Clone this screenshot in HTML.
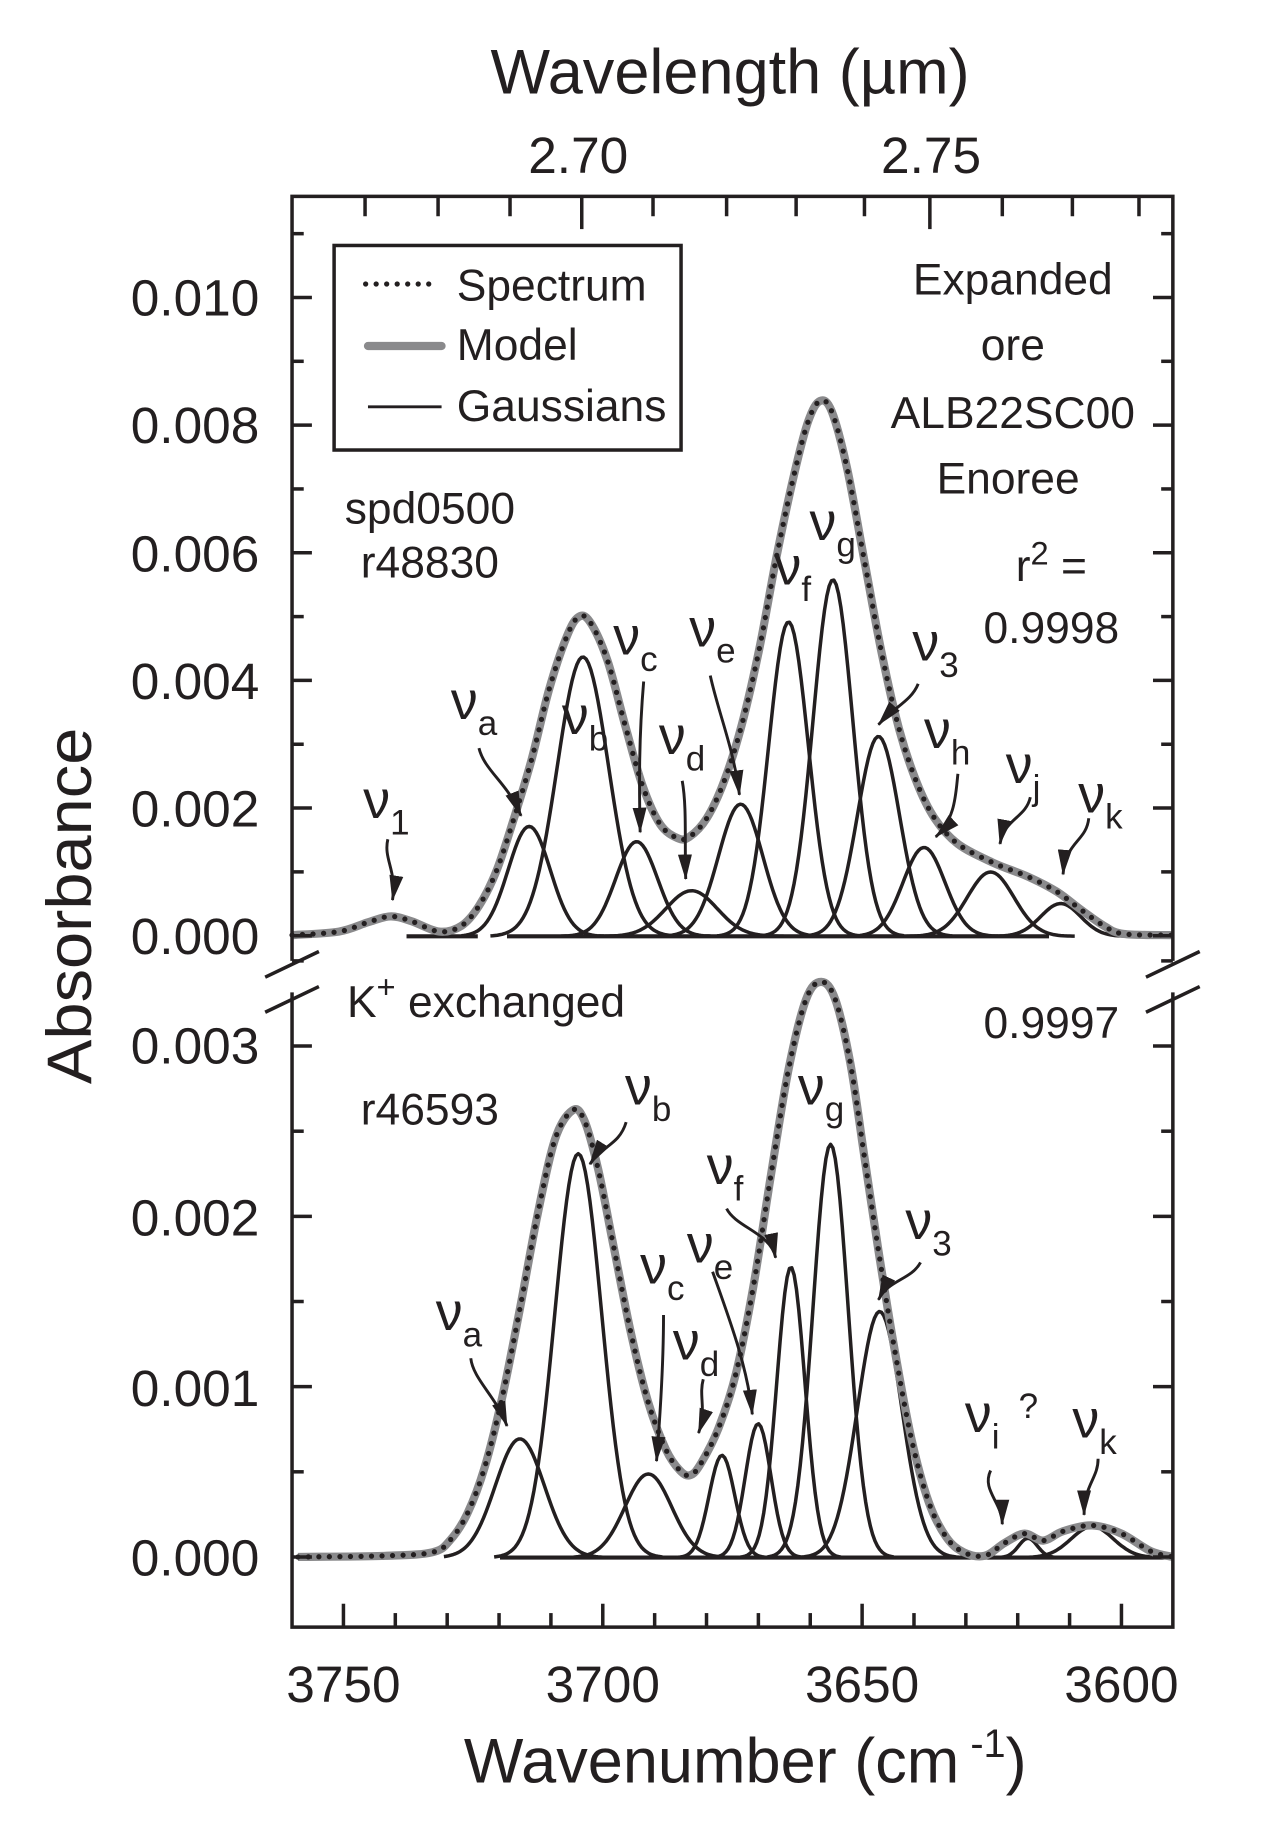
<!DOCTYPE html>
<html><head><meta charset="utf-8"><style>
html,body{margin:0;padding:0;background:#fff}
svg{display:block}
text{font-family:"Liberation Sans",Arial,sans-serif;fill:#231f20}
.tk{font-size:44px}
.an{font-size:38px}
.nu{font-size:46px}
.sb{font-size:30px}
</style></head><body>
<svg id="s" width="1285" height="1834" viewBox="0 0 1100 1569" preserveAspectRatio="none" xmlns="http://www.w3.org/2000/svg">
<defs>
<marker id="ah" viewBox="0 0 22 12" refX="21" refY="6" markerWidth="22" markerHeight="12" markerUnits="userSpaceOnUse" orient="auto">
<path d="M0,0 L22,6 L0,12 Z" fill="#231f20"/>
</marker>
</defs>
<g id="curves"></g>
<g id="axes" stroke="#231f20" stroke-width="3" fill="none"></g>
<rect x="286" y="210" width="297" height="175" fill="none" stroke="#231f20" stroke-width="3"/>
<line x1="313" y1="243" x2="376" y2="243" stroke="#231f20" stroke-width="4.5" stroke-linecap="round" stroke-dasharray="0 9"/>
<line x1="315" y1="296" x2="378" y2="296" stroke="#8a8a8c" stroke-width="7" stroke-linecap="round"/>
<line x1="315" y1="348" x2="378" y2="348" stroke="#231f20" stroke-width="2.5"/>
<text class="an" x="391" y="257">Spectrum</text>
<text class="an" x="391" y="308">Model</text>
<text class="an" x="391" y="360">Gaussians</text>
<text x="625" y="80" font-size="54" text-anchor="middle">Wavelength (µm)</text>
<text class="tk" x="495" y="148" text-anchor="middle">2.70</text>
<text class="tk" x="797" y="148" text-anchor="middle">2.75</text>
<text x="638" y="1525" font-size="54" text-anchor="middle">Wavenumber (cm<tspan font-size="34" dy="-22"> -1</tspan><tspan dy="22">)</tspan></text>
<text x="78" y="775" font-size="54" text-anchor="middle" transform="rotate(-90 78 775)" textLength="305" lengthAdjust="spacingAndGlyphs">Absorbance</text>
<g class="tk" text-anchor="end">
<text x="222" y="270">0.010</text>
<text x="222" y="379">0.008</text>
<text x="222" y="489">0.006</text>
<text x="222" y="598">0.004</text>
<text x="222" y="707">0.002</text>
<text x="222" y="816">0.000</text>
<text x="222" y="910">0.003</text>
<text x="222" y="1057">0.002</text>
<text x="222" y="1203">0.001</text>
<text x="222" y="1348">0.000</text>
</g>
<g class="tk" text-anchor="middle">
<text x="294" y="1456">3750</text>
<text x="516" y="1456">3700</text>
<text x="738" y="1456">3650</text>
<text x="960" y="1456">3600</text>
</g>
<g class="an" text-anchor="middle">
<text x="867" y="252">Expanded</text>
<text x="867" y="308">ore</text>
<text x="867" y="366">ALB22SC00</text>
<text x="863" y="422">Enoree</text>
<text x="900" y="497">r<tspan font-size="28" dy="-14">2</tspan><tspan dy="14"> =</tspan></text>
<text x="900" y="550">0.9998</text>
<text x="900" y="888">0.9997</text>
<text x="368" y="448">spd0500</text>
<text x="368" y="494">r48830</text>
<text x="368" y="962">r46593</text>
</g>
<text class="an" x="297" y="870">K<tspan font-size="28" dy="-16">+</tspan><tspan dy="16"> exchanged</tspan></text>
<g id="labels"></g>
<g id="arrows" stroke="#231f20" stroke-width="2.5" fill="none"></g>
</svg>
<script>
var NS="http://www.w3.org/2000/svg";
function el(p,t,a){var e=document.createElementNS(NS,t);for(var k in a)e.setAttribute(k,a[k]);p.appendChild(e);return e;}
function cr(pts){var d="M"+pts[0][0]+","+pts[0][1];for(var i=0;i<pts.length-1;i++){var p0=pts[i-1]||pts[i],p1=pts[i],p2=pts[i+1],p3=pts[i+2]||p2;
d+=" C"+(p1[0]+(p2[0]-p0[0])/6).toFixed(1)+","+(p1[1]+(p2[1]-p0[1])/6).toFixed(1)+" "+(p2[0]-(p3[0]-p1[0])/6).toFixed(1)+","+(p2[1]-(p3[1]-p1[1])/6).toFixed(1)+" "+p2[0]+","+p2[1];}return d;}
var C=document.getElementById("curves"),A=document.getElementById("axes"),L=document.getElementById("labels"),R=document.getElementById("arrows");
function gauss(x0,yp,base,s,x1,x2){var pts=[];var a=Math.max(x1,x0-3.6*s),b=Math.min(x2,x0+3.6*s);for(var x=a;x<=b+0.01;x+=2){pts.push((x).toFixed(1)+","+(base-(base-yp)*Math.exp(-(x-x0)*(x-x0)/(2*s*s))).toFixed(1));}
el(C,"polyline",{points:pts.join(" "),fill:"none",stroke:"#231f20","stroke-width":3,"stroke-linejoin":"round"});}
var tb=801;
el(C,"line",{x1:348,y1:tb,x2:409,y2:tb,stroke:"#231f20","stroke-width":3.5});
el(C,"line",{x1:434,y1:tb,x2:898,y2:tb,stroke:"#231f20","stroke-width":3.5});
[[453,707,18],[499,562,22],[545,720,18],[592,762,22],[634,688,19],[675,532,17],[713,496,17],[752,630,18],[791,725,18],[848,746,20],[908,773,17]].forEach(function(g){gauss(g[0],g[1],tb,g[2],395,1000);});
var envT=[[250,800],[290,797],[315,789],[334,784],[352,788],[376,797],[395,792],[410,775],[425,745],[440,700],[455,650],[470,590],[485,545],[495,528],[505,532],[520,565],[535,620],[550,672],[565,705],[580,717],[590,716],[605,700],[620,668],[635,620],[650,555],[665,475],[680,405],[692,360],[702,343],[712,352],[725,400],[740,480],[755,560],[770,625],[785,670],[800,700],[820,722],[850,738],[880,750],[905,763],[925,778],[945,792],[962,799],[1004,800]];
var bb=1332.5;
el(C,"line",{x1:428,y1:bb,x2:1004,y2:bb,stroke:"#231f20","stroke-width":3.5});
[[445,1231,21],[495,987,20],[555,1261,20],[618,1245,11],[649,1218,11],[677,1084,12],[711,979,15],[753,1122,19],[880,1316,8],[935,1306,18]].forEach(function(g){gauss(g[0],g[1],bb,g[2],380,1004);});
var envB=[[255,1332],[330,1331],[370,1328],[385,1318],[400,1295],[415,1255],[430,1195],[445,1120],[460,1040],[475,975],[490,950],[500,958],[512,1000],[525,1065],[540,1140],[555,1200],[570,1240],[582,1258],[591,1262],[600,1252],[615,1222],[630,1175],[645,1100],[660,1005],[675,915],[690,855],[703,840],[715,855],[728,910],[740,990],[752,1070],[765,1150],[780,1230],[795,1285],[810,1315],[825,1328],[843,1331],[860,1320],[877,1312],[893,1318],[910,1310],[935,1305],[960,1312],[985,1327],[1004,1332]];
[envT,envB].forEach(function(e){var d=cr(e);
el(C,"path",{d:d,fill:"none",stroke:"#8a8a8c","stroke-width":7,"stroke-linejoin":"round"});
el(C,"path",{d:d,fill:"none",stroke:"#231f20","stroke-width":4.5,"stroke-linecap":"round","stroke-dasharray":"0 9"});});
var l=250,r=1004,t=168,b=1392;
el(A,"path",{d:"M"+l+",822 L"+l+","+t+" L"+r+","+t+" L"+r+",822"});
el(A,"path",{d:"M"+l+",849 L"+l+","+b+" L"+r+","+b+" L"+r+",849"});
[[227,836,273,814],[227,866,273,844],[981,836,1027,814],[981,866,1027,844]].forEach(function(s){el(A,"line",{x1:s[0],y1:s[1],x2:s[2],y2:s[3]});});
function yt(y,maj){var w=maj?17:10;el(A,"line",{x1:l,y1:y,x2:l+w,y2:y});el(A,"line",{x1:r,y1:y,x2:r-w,y2:y});}
for(var i=0;i<=11;i++){yt(800.5-i*54.6,i%2==0);}
for(var i=0;i<=7;i++){yt(1332-i*72.85,i%2==0);}
for(var i=0;i<=15;i++){var x=294+i*44.4;var maj=i%5==0;el(A,"line",{x1:x,y1:b,x2:x,y2:b-(maj?20:12)});}
[312.5,375,436.6,498,559,622,681.5,740,796,858,918,975].forEach(function(x,i){var maj=(i==3||i==8);el(A,"line",{x1:x,y1:t,x2:x,y2:t+(maj?28:17)});});
function nu(x,y,s){var tx=el(L,"text",{x:x,y:y,"class":"nu"});tx.textContent="ν";var ts=el(tx,"tspan",{"class":"sb",dy:14});ts.textContent=s;}
[[311,700,"1"],[386,615,"a"],[481,628,"b"],[525,560,"c"],[564,645,"d"],[590,553,"e"],[663,500,"f"],[693,462,"g"],[781,565,"3"],[791,640,"h"],[861,670,"j"],[923,695,"k"],
[535,945,"b"],[683,945,"g"],[605,1013,"f"],[588,1080,"e"],[548,1098,"c"],[576,1163,"d"],[373,1138,"a"],[775,1060,"3"],[826,1225,"i"],[918,1230,"k"]].forEach(function(n){nu(n[0],n[1],n[2]);});
var q=el(L,"text",{x:872,y:1213,"font-size":30});q.textContent="?";
[["M332,718 C328,735 340,745 336,770"],["M410,640 C415,660 435,670 446,698"],["M551,583 C547,630 547,670 548,712"],["M584,668 C588,690 586,720 587,752"],["M608,578 C615,610 628,640 633,680"],["M786,585 C780,600 765,605 752,620"],["M820,662 C818,680 818,700 801,716"],["M882,682 C878,700 860,700 856,722"],["M932,700 C930,720 912,720 910,748"],
["M536,960 C530,980 515,980 505,996"],["M622,1034 C630,1050 660,1055 664,1076"],["M610,1088 C625,1130 640,1170 644,1210"],["M568,1125 C568,1160 566,1200 562,1250"],["M602,1180 C598,1195 605,1205 598,1226"],["M403,1162 C405,1180 425,1195 434,1220"],["M788,1080 C780,1095 760,1095 752,1112"],["M848,1258 C840,1275 858,1285 858,1304"],["M940,1248 C940,1265 928,1270 928,1296"]].forEach(function(a){el(R,"path",{d:a[0],"marker-end":"url(#ah)"});});
</script>
</body></html>
